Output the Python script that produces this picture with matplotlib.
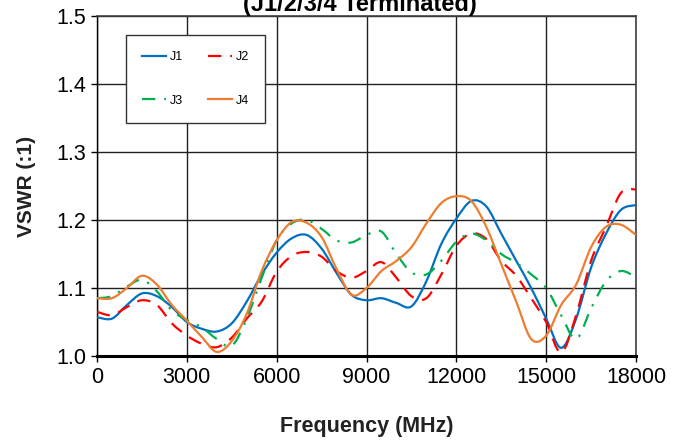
import matplotlib
matplotlib.use("Agg")
import matplotlib.pyplot as plt
from matplotlib.path import Path
from matplotlib.patches import PathPatch
from matplotlib.lines import Line2D

plt.rcParams['font.family'] = ['Liberation Sans', 'DejaVu Sans']

freq = [0, 500, 1000, 1500, 2000, 2500, 3000, 3500, 4000, 4500, 5000, 5500,
        6000, 6500, 7000, 7500, 8000, 8500, 9000, 9500, 10000, 10500, 11000,
        11500, 12000, 12500, 13000, 13500, 14000, 14500, 15000, 15500, 16000,
        16500, 17000, 17500, 18000]

j1 = [1.057, 1.055, 1.075, 1.092, 1.088, 1.072, 1.050, 1.040, 1.036, 1.048,
      1.080, 1.120, 1.152, 1.173, 1.178, 1.158, 1.122, 1.090, 1.082, 1.085,
      1.078, 1.073, 1.110, 1.165, 1.202, 1.228, 1.220, 1.180, 1.140, 1.100,
      1.055, 1.012, 1.055, 1.130, 1.180, 1.215, 1.222]

j2 = [1.065, 1.060, 1.072, 1.082, 1.075, 1.048, 1.030, 1.018, 1.013, 1.027,
      1.055, 1.080, 1.124, 1.147, 1.153, 1.146, 1.125, 1.115, 1.125, 1.138,
      1.115, 1.088, 1.085, 1.120, 1.162, 1.180, 1.172, 1.140, 1.118, 1.085,
      1.050, 1.005, 1.060, 1.140, 1.190, 1.240, 1.245]

j3 = [1.085, 1.088, 1.102, 1.112, 1.095, 1.067, 1.053, 1.042, 1.025, 1.015,
      1.055, 1.115, 1.170, 1.195, 1.200, 1.187, 1.170, 1.167, 1.178, 1.183,
      1.150, 1.123, 1.120, 1.140, 1.168, 1.180, 1.170, 1.150, 1.137, 1.120,
      1.100, 1.060, 1.025, 1.070, 1.110, 1.125, 1.116]

j4 = [1.085, 1.085, 1.100, 1.118, 1.105, 1.075, 1.052, 1.028, 1.006, 1.022,
      1.062, 1.125, 1.170, 1.197, 1.196, 1.175, 1.128, 1.090, 1.100, 1.125,
      1.140, 1.160, 1.195, 1.225, 1.235, 1.228, 1.190, 1.135, 1.080, 1.025,
      1.030, 1.075, 1.105, 1.160, 1.190, 1.193, 1.178]

labels = ['J1', 'J2', 'J3', 'J4']
xticks = [0, 3000, 6000, 9000, 12000, 15000, 18000]
yticks = [1.0, 1.1, 1.2, 1.3, 1.4, 1.5]


def smooth_path(xs, ys):
    """Smoothed line (like a spreadsheet's smoothed line) as Bezier segments."""
    pts = list(zip(xs, ys))
    n = len(pts)
    verts = [pts[0]]
    codes = [Path.MOVETO]
    for i in range(n - 1):
        p0 = pts[i - 1] if i > 0 else pts[i]
        p1 = pts[i]
        p2 = pts[i + 1]
        p3 = pts[i + 2] if i + 2 < n else pts[i + 1]
        c1 = (p1[0] + (p2[0] - p0[0]) / 6.0, p1[1] + (p2[1] - p0[1]) / 6.0)
        c2 = (p2[0] - (p3[0] - p1[0]) / 6.0, p2[1] - (p3[1] - p1[1]) / 6.0)
        verts += [c1, c2, p2]
        codes += [Path.CURVE4] * 3
    return Path(verts, codes)


fig = plt.figure(figsize=(6.83, 4.40), dpi=100)
ax = fig.add_axes([97/683, 1-356/440, 539/683, 340/440])

lw = 1.6
styles = [
    dict(color='#0070C0', ls='-'),
    dict(color='#FF0000', ls=(0, (6, 4))),
    dict(color='#00B050', ls=(0, (6, 4, 1, 4))),
    dict(color='#ED7D31', ls='-'),
]
series = [j1, j2, j3, j4]
handles = []
for ys, st, lab in zip(series, styles, labels):
    patch = PathPatch(smooth_path(freq, ys), fill=False, edgecolor=st['color'],
                      lw=lw, linestyle=st['ls'], zorder=3, capstyle='butt')
    ax.add_patch(patch)
    handles.append(Line2D([], [], color=st['color'], lw=lw, linestyle=st['ls'],
                          label=lab))

ax.set_xlim(0, 18000)
ax.set_ylim(1.0, 1.5)
ax.set_xticks(xticks)
ax.set_xticklabels([str(t) for t in xticks])
ax.set_yticks(yticks)
ax.set_yticklabels(['%.1f' % t for t in yticks])
ax.tick_params(direction='out', length=4, width=1, colors='black',
               labelsize=15.5, pad=4)
ax.grid(True, color='#202020', lw=1.0, zorder=1)
for s in ['top', 'right']:
    ax.spines[s].set_color('#404040')
    ax.spines[s].set_linewidth(1.2)
ax.spines['left'].set_color('black')
ax.spines['left'].set_linewidth(1.0)
ax.spines['bottom'].set_color('black')
ax.spines['bottom'].set_linewidth(2.2)

ax.set_xlabel('Frequency (MHz)', fontsize=15.5, fontweight='bold',
              color='#222222', labelpad=20)
ax.set_ylabel('VSWR (:1)', fontsize=15, fontweight='bold', color='#222222',
              labelpad=14)

fig.text(360/683, 1-11.5/440, '(J1/2/3/4 Terminated)', fontsize=17,
         fontweight='bold', ha='center', va='baseline')

# order so that rows read J1 J2 / J3 J4 with ncol=2
order = [0, 2, 1, 3]
leg = ax.legend([handles[i] for i in order], [labels[i] for i in order],
                loc='upper left', bbox_to_anchor=(0.054, 0.944), ncol=2,
                fontsize=9, frameon=True, fancybox=False, borderaxespad=0,
                borderpad=1.3, labelspacing=2.5, columnspacing=2.0,
                handlelength=1.9, handletextpad=0.3)
leg.get_frame().set_edgecolor('#333333')
leg.get_frame().set_linewidth(1.0)
leg.get_frame().set_alpha(1)

fig.savefig('out.png', dpi=100)
